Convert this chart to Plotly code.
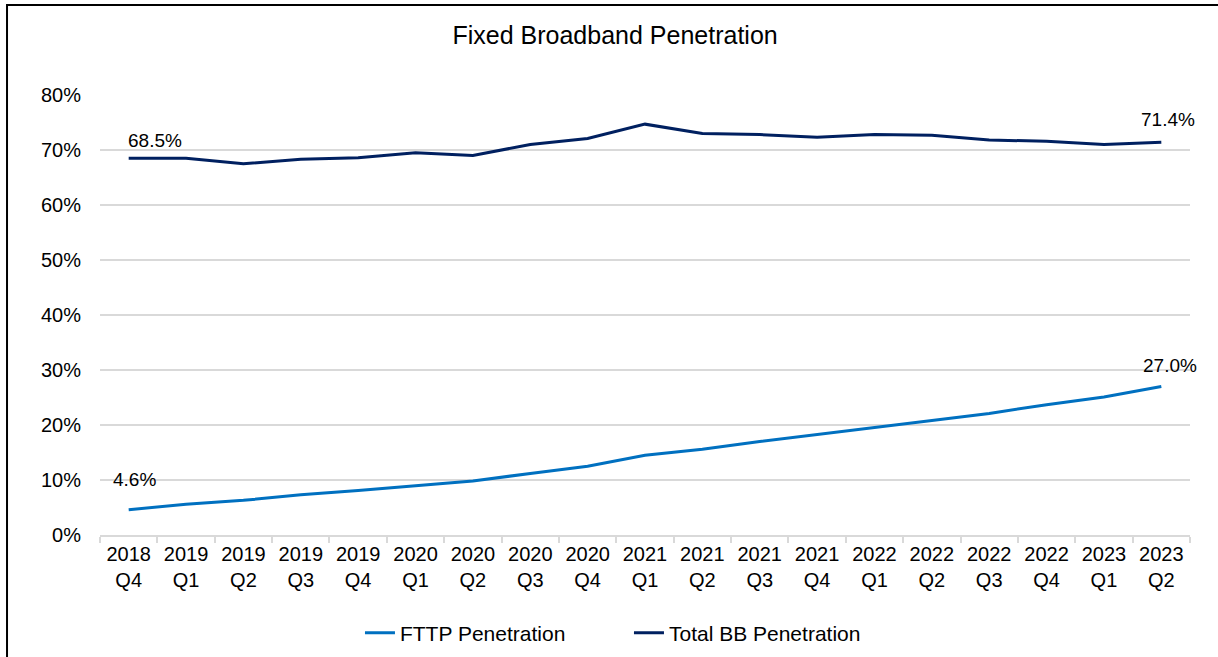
import plotly.graph_objects as go

categories = ["2018<br>Q4", "2019<br>Q1", "2019<br>Q2", "2019<br>Q3", "2019<br>Q4",
              "2020<br>Q1", "2020<br>Q2", "2020<br>Q3", "2020<br>Q4",
              "2021<br>Q1", "2021<br>Q2", "2021<br>Q3", "2021<br>Q4",
              "2022<br>Q1", "2022<br>Q2", "2022<br>Q3", "2022<br>Q4",
              "2023<br>Q1", "2023<br>Q2"]
fttp = [4.6, 5.6, 6.3, 7.3, 8.1, 8.9, 9.8, 11.2, 12.5, 14.5, 15.6, 17.0, 18.3,
        19.6, 20.9, 22.1, 23.7, 25.1, 27.0]
total_bb = [68.5, 68.5, 67.5, 68.3, 68.6, 69.5, 69.0, 71.0, 72.1, 74.7, 73.0, 72.8,
            72.3, 72.8, 72.7, 71.8, 71.6, 71.0, 71.4]
y_ticks = [0, 10, 20, 30, 40, 50, 60, 70, 80]
y_ticklabels = [f"{v}%" for v in y_ticks]

FONT = "Liberation Sans, Arial, sans-serif"

fig = go.Figure()
fig.add_trace(go.Scatter(x=categories, y=fttp, mode="lines", name="FTTP Penetration",
                         line=dict(color="#0070C0", width=3)))
fig.add_trace(go.Scatter(x=categories, y=total_bb, mode="lines", name="Total BB Penetration",
                         line=dict(color="#002060", width=3)))

ann_font = dict(family=FONT, size=19, color="#000000")
fig.add_annotation(x=categories[0], y=total_bb[0], text=f"{total_bb[0]:.1f}%", showarrow=False,
                   xanchor="left", yanchor="middle", xshift=-3, yshift=18, font=ann_font)
fig.add_annotation(x=categories[-1], y=total_bb[-1], text=f"{total_bb[-1]:.1f}%", showarrow=False,
                   xanchor="center", yanchor="middle", xshift=7, yshift=23, font=ann_font)
fig.add_annotation(x=categories[0], y=fttp[0], text=f"{fttp[0]:.1f}%", showarrow=False,
                   xanchor="center", yanchor="middle", xshift=6, yshift=30, font=ann_font)
fig.add_annotation(x=categories[-1], y=fttp[-1], text=f"{fttp[-1]:.1f}%", showarrow=False,
                   xanchor="center", yanchor="middle", xshift=9, yshift=21, font=ann_font)

# outer frame
fig.add_shape(type="rect", xref="paper", yref="paper",
              x0=-0.0853, x1=1.2, y0=-0.6, y1=1.2045,
              line=dict(color="#000000", width=2), fillcolor="rgba(0,0,0,0)", layer="above")

fig.update_layout(
    template="none",
    width=1218, height=657,
    margin=dict(l=100, r=28, t=95, b=122, autoexpand=False),
    paper_bgcolor="white", plot_bgcolor="white",
    font=dict(family=FONT, size=20, color="#000000"),
    title=dict(text="Fixed Broadband Penetration", x=0.505, xanchor="center",
               y=1 - 35 / 657, yanchor="middle", font=dict(family=FONT, size=25, color="#000000")),
    showlegend=True,
    legend=dict(orientation="h", x=0.2385, xanchor="left", y=-0.2227, yanchor="middle",
                font=dict(family=FONT, size=21), itemwidth=30, entrywidth=224,
                bgcolor="rgba(0,0,0,0)", borderwidth=0),
    xaxis=dict(type="category", range=[-0.5, 18.5], autorange=False, automargin=False,
               showgrid=False, showline=True, linecolor="#d9d9d9", linewidth=2, zeroline=False,
               ticks="outside", tickson="boundaries", ticklen=6, tickcolor="#d9d9d9", tickwidth=2,
               tickfont=dict(family=FONT, size=20), fixedrange=True),
    yaxis=dict(range=[0, 80], autorange=False, automargin=False, tickvals=y_ticks,
               ticktext=y_ticklabels, showgrid=True,
               gridcolor="#d9d9d9", gridwidth=1.5, zeroline=False, showline=False,
               ticks="outside", ticklen=14, tickcolor="rgba(0,0,0,0)",
               tickfont=dict(family=FONT, size=20), fixedrange=True),
)

fig.write_html("out.html", config={"displayModeBar": False},
               post_script="document.body.style.margin='0';document.body.style.padding='0';")
